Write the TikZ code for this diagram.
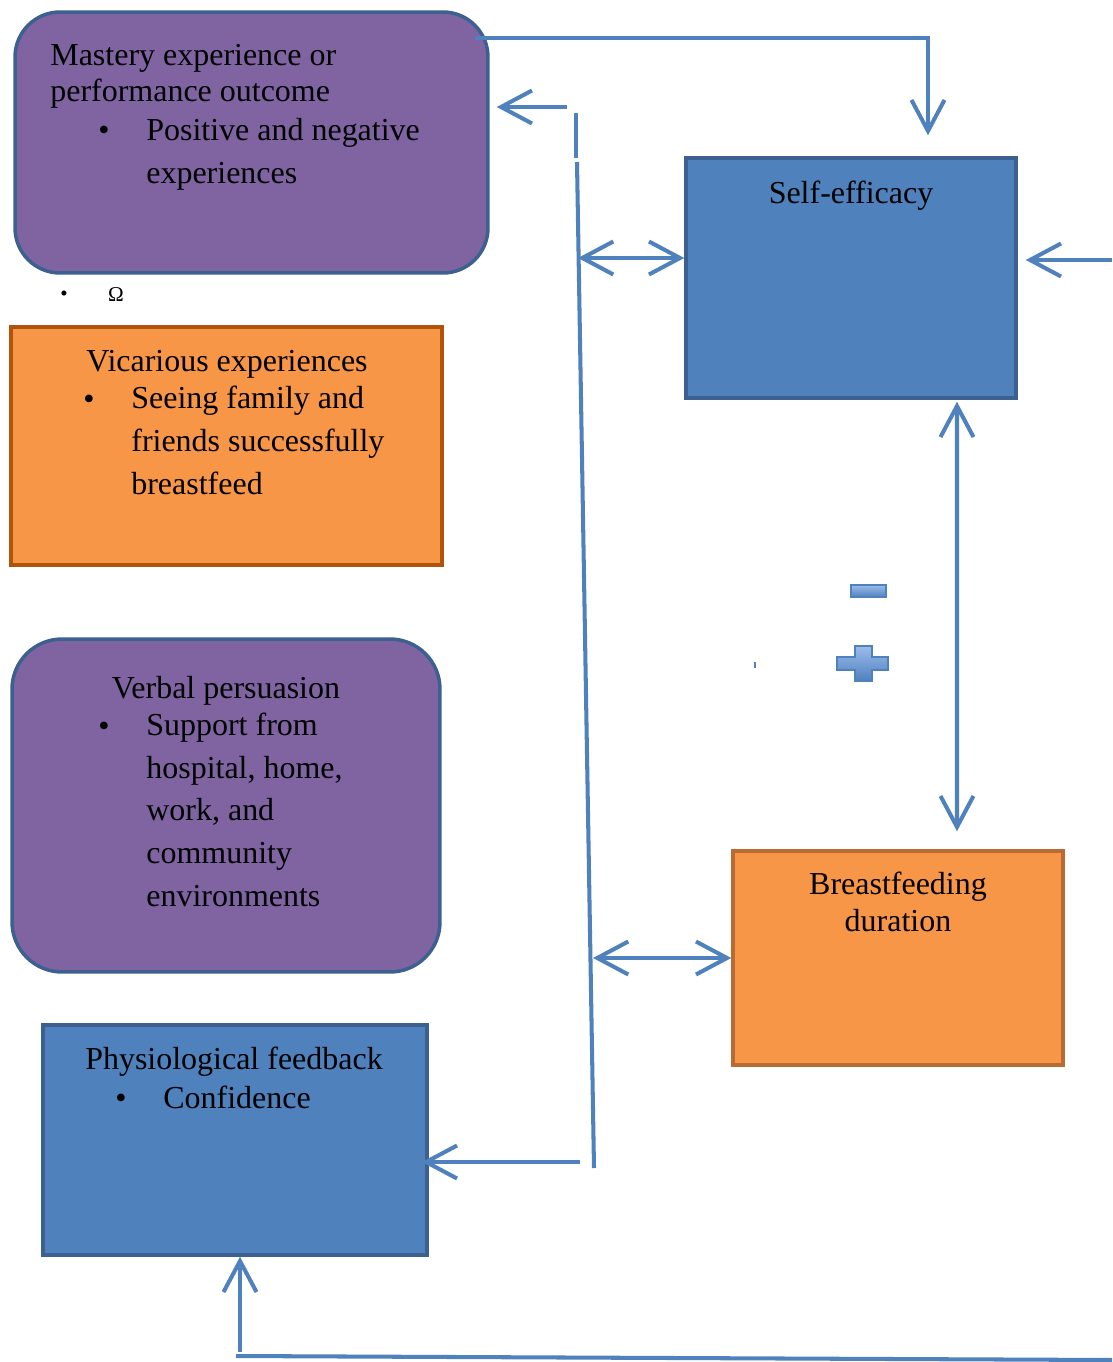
\documentclass[tikz,border=0pt]{standalone}
\usepackage{fontspec}
\setmainfont{Liberation Serif}
\usetikzlibrary{arrows.meta}

\definecolor{boxblue}{HTML}{4F81BD}
\definecolor{edgeblue}{HTML}{3C6090}
\definecolor{boxpurple}{HTML}{8064A2}
\definecolor{boxorange}{HTML}{F79646}
\definecolor{edgebrown}{HTML}{B0540C}
\definecolor{edgetan}{HTML}{B86B32}
\definecolor{signlight}{HTML}{9CBCEB}

\tikzset{
  box/.style={inner sep=0pt, line width=2pt},
  purplebox/.style={box, draw=edgeblue, fill=boxpurple, rounded corners=0.9cm},
  bluebox/.style={box, draw=edgeblue, fill=boxblue},
  orangebox/.style={box, draw=edgebrown, fill=boxorange},
  txt/.style={inner sep=0pt, anchor=base west, align=left, font=\fontsize{18.2}{20.5}\selectfont},
  itemtxt/.style={txt, font=\fontsize{18.2}{24.2}\selectfont},
  smalltxt/.style={inner sep=0pt, anchor=base, font=\fontsize{12}{14}\selectfont},
  link/.style={draw=boxblue, line width=2.3pt},
  tip/.style={-{Straight Barb[length=0.62cm, width=0.66cm]}},
  tips/.style={{Straight Barb[length=0.62cm, width=0.66cm]}-{Straight Barb[length=0.62cm, width=0.66cm]}},
  sign/.style={draw=boxblue, line width=0.8pt, top color=signlight, bottom color=boxblue}
}

\begin{document}
\begin{tikzpicture}[x=0.02cm, y=-0.02cm]
    \useasboundingbox (0,0) rectangle (1112,1362);

    % Boxes
    \node[purplebox, minimum width=9.46cm, minimum height=5.22cm] (mastery) at (251.5,142.5) {};
    \node[orangebox, minimum width=8.62cm, minimum height=4.76cm] (vicarious) at (226.5,446) {};
    \node[purplebox, rounded corners=1cm, minimum width=8.56cm, minimum height=6.66cm] (verbal) at (226,805.5) {};
    \node[bluebox, minimum width=7.68cm, minimum height=4.6cm] (physio) at (235,1140) {};
    \node[bluebox, minimum width=6.6cm, minimum height=4.8cm] (self) at (851,278) {};
    \node[orangebox, draw=edgetan, minimum width=6.6cm, minimum height=4.28cm] (duration) at (898,958) {};

    % Texts of the sources (multi-line nodes sit on their last line)
    \node[txt] (mastery-title) at (50,102) {Mastery experience or\\performance outcome};
    \node[txt] (mastery-dot) at (98,140) {\textbullet};
    \node[itemtxt] (mastery-item) at (146,183) {Positive and negative\\experiences};

    \node[smalltxt] (omega-dot) at (64,300) {\textbullet};
    \node[smalltxt] (omega) at (116,301) {Ω};

    \node[txt, anchor=base] (vicarious-title) at (227,371) {Vicarious experiences};
    \node[txt] (vicarious-dot) at (83,409) {\textbullet};
    \node[itemtxt] (vicarious-item) at (131,494) {Seeing family and\\friends successfully\\breastfeed};

    \node[txt, anchor=base] (verbal-title) at (226,698) {Verbal persuasion};
    \node[txt] (verbal-dot) at (98,736) {\textbullet};
    \node[itemtxt] (verbal-item) at (146,906) {Support from\\hospital, home,\\work, and\\community\\environments};

    \node[txt, anchor=base] (physio-title) at (234,1069) {Physiological feedback};
    \node[txt] (physio-dot) at (115,1108) {\textbullet};
    \node[itemtxt] (physio-item) at (163,1108) {Confidence};

    \node[txt, anchor=base] (self-title) at (851,203) {Self-efficacy};
    \node[txt, anchor=base, align=center, font=\fontsize{18.2}{21}\selectfont] (duration-title) at (898,931) {Breastfeeding\\duration};

    % Signs
    \draw[sign] (851,585) rectangle (886,597);
    \draw[sign] (855,646) -- (872,646) -- (872,657) -- (888,657) -- (888,670) -- (872,670)
        -- (872,681) -- (855,681) -- (855,670) -- (837,670) -- (837,657) -- (855,657) -- cycle;
    \draw[boxblue, line width=1.2pt] (755,662) -- (755,668);

    % Loop from mastery to self-efficacy
    \coordinate (loop-start) at (475,38);
    \draw[link, tip] (loop-start) -| ([xshift=1.54cm, yshift=0.42cm]self.north);

    % Return to mastery
    \coordinate (back-start) at (567,107);
    \draw[link, tip, shorten >=0.14cm] (back-start) -- (back-start -| mastery.east);

    % Spine
    \coordinate (spine-gap) at (576,113);
    \coordinate (spine-top) at (577,162);
    \coordinate (spine-bottom) at (594,1168);
    \draw[link] (spine-gap) -- ++(0,45);
    \draw[link] (spine-top) -- (spine-bottom);

    % Spine to self-efficacy and duration
    \coordinate (self-link) at (578,258);
    \draw[link, tips] (self-link) -- (self-link -| self.west);
    \coordinate (duration-link) at (593,958);
    \draw[link, tips] (duration-link) -- (duration.west);

    % Spine to physiological feedback
    \coordinate (physio-link) at (580,1162);
    \draw[link, tip, shorten >=-0.14cm] (physio-link) -- (physio-link -| physio.east);

    % Input from the right
    \coordinate (right-in) at (1112,260);
    \draw[link, tip, shorten >=0.16cm] (right-in) -- (right-in -| self.east);

    % Self-efficacy and duration
    \draw[link, tips] ([xshift=2.12cm, yshift=-0.04cm]self.south) -- ([xshift=1.18cm, yshift=0.36cm]duration.north);

    % Return along the bottom
    \coordinate (bottom-right) at (1112,1360);
    \coordinate (bottom-left) at (236,1356);
    \draw[link] (bottom-right) -- (bottom-left);
    \coordinate (physio-up) at (240,1352);
    \draw[link, tip] (physio-up) -- (physio-up |- physio.south);
\end{tikzpicture}
\end{document}
